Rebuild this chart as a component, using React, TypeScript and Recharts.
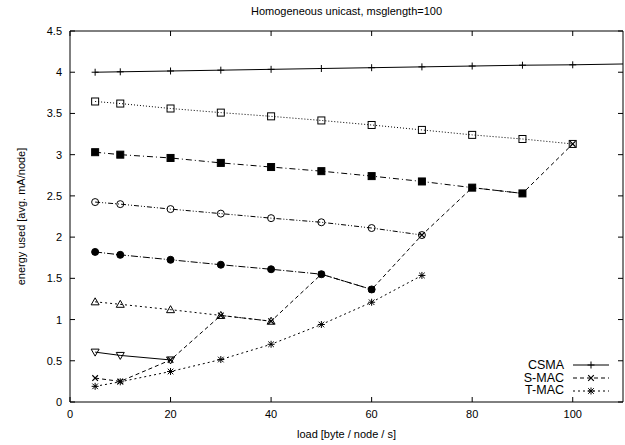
import { LineChart, Line, XAxis, YAxis, Legend, Label, ReferenceArea } from "recharts";

const loads = [5, 10, 20, 30, 40, 50, 60, 70, 80, 90, 100, 110];
const csma = [4.0, 4.005, 4.015, 4.025, 4.035, 4.045, 4.055, 4.065, 4.075, 4.085, 4.09, 4.1];
const smac = [0.29, 0.25, 0.51, 1.05, 0.98, 1.55, 1.365, 2.025, 2.6, 2.53, 3.13, null];
const tmac = [0.19, 0.245, 0.37, 0.515, 0.7, 0.94, 1.21, 1.535, null, null, null, null];
const openSquare = [3.645, 3.62, 3.56, 3.51, 3.465, 3.415, 3.36, 3.3, 3.24, 3.19, 3.13, null];
const filledSquare = [3.03, 3.0, 2.96, 2.9, 2.85, 2.8, 2.74, 2.675, 2.6, 2.53, null, null];
const openCircle = [2.425, 2.4, 2.34, 2.285, 2.23, 2.18, 2.11, 2.025, null, null, null, null];
const filledCircle = [1.82, 1.785, 1.725, 1.665, 1.61, 1.55, 1.365, null, null, null, null, null];
const openTriangle = [1.215, 1.185, 1.12, 1.05, 0.98, null, null, null, null, null, null, null];
const downTriangle = [0.605, 0.565, 0.51, null, null, null, null, null, null, null, null, null];

const xTicks = [0, 20, 40, 60, 80, 100];
const yTicks = [0, 0.5, 1, 1.5, 2, 2.5, 3, 3.5, 4, 4.5];
const legendNames = ["CSMA", "S-MAC", "T-MAC"];

const data = loads.map((x, i) => ({
  x,
  csma: csma[i],
  smac: smac[i],
  tmac: tmac[i],
  openSquare: openSquare[i],
  filledSquare: filledSquare[i],
  openCircle: openCircle[i],
  filledCircle: filledCircle[i],
  openTriangle: openTriangle[i],
  downTriangle: downTriangle[i],
}));

const W = 625;
const H = 445;
const PLOT_TOP = 31;
const PLOT_LEFT = 70;
const PLOT_RIGHT = W - 2;
const X_AXIS_H = 43;
const PLOT_BOTTOM = H - X_AXIS_H;
const FONT = "'Liberation Sans', Arial, sans-serif";

type Shape = "plus" | "cross" | "star" | "square" | "squareFilled" | "circle" | "circleFilled" | "triUp" | "triDown";

function Marker({ cx, cy, shape }: { cx: number; cy: number; shape: Shape }) {
  const s = 3.5;
  const c = 2.8;
  const plus = `M${cx - s},${cy}H${cx + s}M${cx},${cy - s}V${cy + s}`;
  const cross = `M${cx - c},${cy - c}L${cx + c},${cy + c}M${cx - c},${cy + c}L${cx + c},${cy - c}`;
  switch (shape) {
    case "plus":
      return <path d={plus} stroke="#000" strokeWidth={1} />;
    case "cross":
      return <path d={cross} stroke="#000" strokeWidth={1.2} />;
    case "star":
      return <path d={plus + cross} stroke="#000" strokeWidth={1} />;
    case "square":
      return <rect x={cx - 3.5} y={cy - 3.5} width={7} height={7} fill="none" stroke="#000" />;
    case "squareFilled":
      return <rect x={cx - 3.5} y={cy - 3.5} width={7} height={7} fill="#000" stroke="#000" />;
    case "circle":
      return <circle cx={cx} cy={cy} r={3.5} fill="none" stroke="#000" />;
    case "circleFilled":
      return <circle cx={cx} cy={cy} r={3.5} fill="#000" stroke="#000" />;
    case "triUp":
      return <path d={`M${cx},${cy - 4}L${cx + 4},${cy + 3}L${cx - 4},${cy + 3}Z`} fill="none" stroke="#000" />;
    case "triDown":
      return <path d={`M${cx},${cy + 4}L${cx + 4},${cy - 3}L${cx - 4},${cy - 3}Z`} fill="none" stroke="#000" />;
  }
  return null;
}

const dotFor = (name: string, shape: Shape) => (p: any) => {
  const key = `${name}-${p.index}`;
  if (p.value == null || p.cy == null || p.payload.x >= 110) return <g key={key} />;
  return (
    <g key={key}>
      <Marker cx={p.cx} cy={p.cy} shape={shape} />
    </g>
  );
};

function XTick(p: any) {
  const { x, payload } = p;
  return (
    <g>
      <line x1={x} x2={x} y1={PLOT_BOTTOM} y2={PLOT_BOTTOM - 5} stroke="#000" />
      <line x1={x} x2={x} y1={PLOT_TOP} y2={PLOT_TOP + 5} stroke="#000" />
      <text x={x} y={PLOT_BOTTOM + 16} textAnchor="middle" fontSize={11} fontFamily={FONT} fill="#000">
        {payload.value}
      </text>
    </g>
  );
}

function YTick(p: any) {
  const { y, payload } = p;
  return (
    <g>
      <line x1={PLOT_LEFT} x2={PLOT_LEFT + 5} y1={y} y2={y} stroke="#000" />
      <line x1={PLOT_RIGHT} x2={PLOT_RIGHT - 5} y1={y} y2={y} stroke="#000" />
      <text x={PLOT_LEFT - 8} y={y + 4} textAnchor="end" fontSize={11} fontFamily={FONT} fill="#000">
        {String(payload.value)}
      </text>
    </g>
  );
}

const legendStyle: Record<string, { dash?: string; shape: Shape }> = {
  CSMA: { shape: "plus" },
  "S-MAC": { dash: "4 3", shape: "cross" },
  "T-MAC": { dash: "2 3", shape: "star" },
};

function LegendBox({ payload }: any) {
  const items = (payload || [])
    .filter((e: any) => legendNames.includes(e.value))
    .sort((a: any, b: any) => legendNames.indexOf(a.value) - legendNames.indexOf(b.value));
  return (
    <div style={{ fontFamily: FONT, fontSize: 12.5, lineHeight: "12.7px" }}>
      {items.map((e: any) => {
        const st = legendStyle[e.value];
        return (
          <div key={e.value} style={{ display: "flex", justifyContent: "flex-end", alignItems: "center", height: 12.7 }}>
            <span>{e.value}</span>
            <svg width={36} height={12} style={{ marginLeft: 9 }}>
              <line x1={0} x2={36} y1={6} y2={6} stroke="#000" strokeDasharray={st.dash} />
              <Marker cx={18} cy={6} shape={st.shape} />
            </svg>
          </div>
        );
      })}
    </div>
  );
}

export default function App() {
  return (
    <div style={{ position: "absolute", left: 0, top: 0, width: W, height: H, background: "#fff" }}>
      <div
        style={{
          position: "absolute",
          top: 5,
          left: PLOT_LEFT,
          width: PLOT_RIGHT - PLOT_LEFT,
          textAlign: "center",
          fontFamily: FONT,
          fontSize: 11,
        }}
      >
        Homogeneous unicast, msglength=100
      </div>
      <LineChart width={W} height={H} data={data} margin={{ top: PLOT_TOP, right: W - PLOT_RIGHT, bottom: 0, left: 0 }}>
        <XAxis
          dataKey="x"
          type="number"
          domain={[0, 110]}
          ticks={xTicks}
          height={X_AXIS_H}
          axisLine={false}
          tickLine={false}
          tick={(p: any) => <XTick {...p} />}
          allowDataOverflow
        >
          <Label
            value="load [byte / node / s]"
            position="insideBottom"
            offset={7}
            style={{ fontFamily: FONT, fontSize: 11, fill: "#000" }}
          />
        </XAxis>
        <YAxis
          type="number"
          domain={[0, 4.5]}
          ticks={yTicks}
          width={PLOT_LEFT}
          axisLine={false}
          tickLine={false}
          tick={(p: any) => <YTick {...p} />}
        >
          <Label
            value="energy used [avg. mA/node]"
            angle={-90}
            position="insideLeft"
            offset={21}
            style={{ fontFamily: FONT, fontSize: 11, fill: "#000", textAnchor: "middle" }}
          />
        </YAxis>
        <ReferenceArea x1={0} x2={110} y1={0} y2={4.5} fill="none" stroke="#000" strokeWidth={1} />
        <Line dataKey="openSquare" stroke="#000" strokeWidth={1} strokeDasharray="1 2" dot={dotFor("os", "square")} legendType="none" isAnimationActive={false} />
        <Line dataKey="filledSquare" stroke="#000" strokeWidth={1} strokeDasharray="6 3 1 3" dot={dotFor("fs", "squareFilled")} legendType="none" isAnimationActive={false} />
        <Line dataKey="openCircle" stroke="#000" strokeWidth={1} strokeDasharray="5 2 1 2 1 2" dot={dotFor("oc", "circle")} legendType="none" isAnimationActive={false} />
        <Line dataKey="filledCircle" stroke="#000" strokeWidth={1} strokeDasharray="7 2 1 2" dot={dotFor("fc", "circleFilled")} legendType="none" isAnimationActive={false} />
        <Line dataKey="openTriangle" stroke="#000" strokeWidth={1} strokeDasharray="2 3" dot={dotFor("ot", "triUp")} legendType="none" isAnimationActive={false} />
        <Line dataKey="downTriangle" stroke="#000" strokeWidth={1} dot={dotFor("dt", "triDown")} legendType="none" isAnimationActive={false} />
        <Line name="S-MAC" dataKey="smac" stroke="#000" strokeWidth={1} strokeDasharray="4 3" dot={dotFor("sm", "cross")} isAnimationActive={false} />
        <Line name="T-MAC" dataKey="tmac" stroke="#000" strokeWidth={1} strokeDasharray="2 3" dot={dotFor("tm", "star")} isAnimationActive={false} />
        <Line name="CSMA" dataKey="csma" stroke="#000" strokeWidth={1} dot={dotFor("cs", "plus")} isAnimationActive={false} />
        <Legend
          layout="vertical"
          align="center"
          verticalAlign="middle"
          content={(p: any) => <LegendBox {...p} />}
          wrapperStyle={{ position: "absolute", left: 499, top: 359, width: 110 }}
        />
      </LineChart>
    </div>
  );
}
